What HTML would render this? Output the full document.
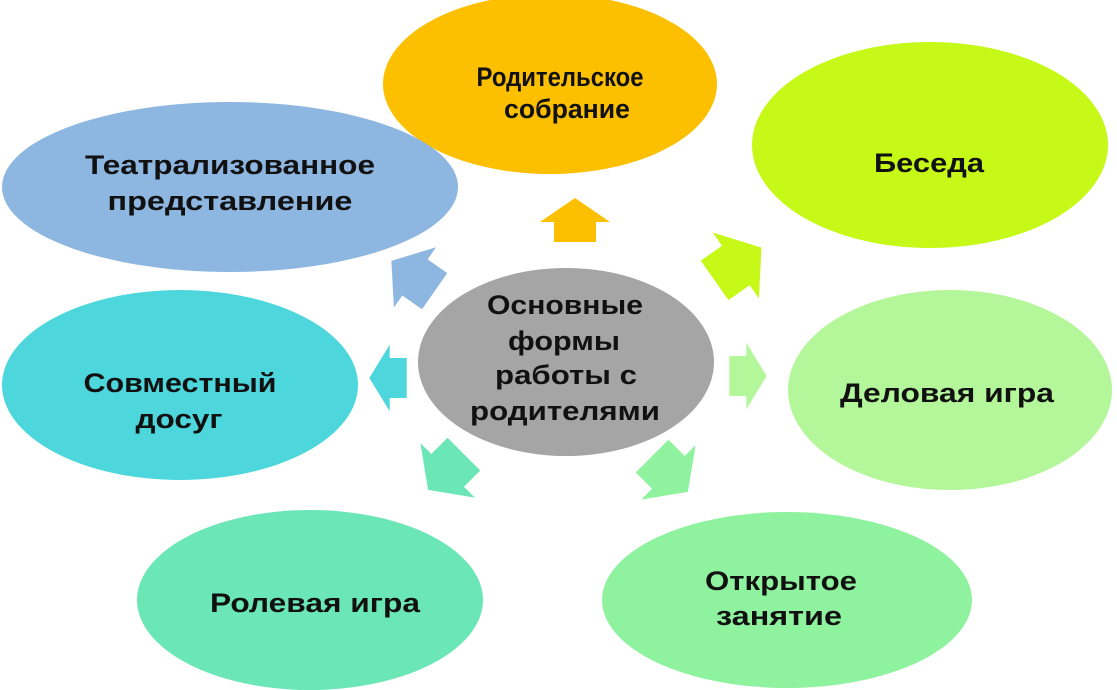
<!DOCTYPE html>
<html><head><meta charset="utf-8"><style>
html,body{margin:0;padding:0;background:#fff;}
svg{display:block}
text{font-family:"Liberation Sans",sans-serif;font-weight:bold;font-size:27px;fill:#111;text-anchor:middle;}
</style></head><body>
<svg width="1117" height="690" viewBox="0 0 1117 690" xmlns="http://www.w3.org/2000/svg">
<defs>
<polygon id="ar" points="0,-22 35,2 21,2 21,22 -21,22 -21,2 -35,2"/>
</defs>
<ellipse cx="550" cy="84" rx="167" ry="90" fill="#FDC000"/>
<ellipse cx="930" cy="145" rx="178" ry="103" fill="#C6F918"/>
<ellipse cx="230" cy="187" rx="228" ry="85" fill="#8DB6E0"/>
<ellipse cx="180" cy="385" rx="178" ry="95" fill="#4DD7DC"/>
<ellipse cx="950" cy="390" rx="162" ry="100" fill="#B4F79B"/>
<ellipse cx="310" cy="600" rx="173" ry="90" fill="#6BE6B6"/>
<ellipse cx="787" cy="600" rx="185" ry="88" fill="#8FF29F"/>
<ellipse cx="566" cy="362" rx="148" ry="94" fill="#A5A5A5"/>

<use href="#ar" fill="#FDC000" transform="translate(575,220)"/>
<use href="#ar" fill="#C6F918" transform="translate(738,264) rotate(55) scale(1.15,1.3)"/>
<use href="#ar" fill="#8DB6E0" transform="translate(413,276) rotate(-55) scale(1.05,1.2)"/>
<use href="#ar" fill="#4DD7DC" transform="translate(388,378) rotate(-90) scale(0.95,0.85)"/>
<use href="#ar" fill="#B4F79B" transform="translate(748,376) rotate(90) scale(0.95,0.85)"/>
<use href="#ar" fill="#6BE6B6" transform="translate(446,472) rotate(-135) scale(1.1,1.15)"/>
<use href="#ar" fill="#8FF29F" transform="translate(670,474) rotate(135) scale(1.1,1.15)"/>

<text x="560" y="86" textLength="167" lengthAdjust="spacingAndGlyphs">Родительское</text>
<text x="567" y="118" textLength="126" lengthAdjust="spacingAndGlyphs">собрание</text>
<text x="929" y="172" textLength="110" lengthAdjust="spacingAndGlyphs">Беседа</text>
<text x="230" y="174" textLength="290" lengthAdjust="spacingAndGlyphs">Театрализованное</text>
<text x="230" y="210" textLength="245" lengthAdjust="spacingAndGlyphs">представление</text>
<text x="180" y="392" textLength="193" lengthAdjust="spacingAndGlyphs">Совместный</text>
<text x="179" y="428" textLength="87" lengthAdjust="spacingAndGlyphs">досуг</text>
<text x="947" y="402" textLength="214" lengthAdjust="spacingAndGlyphs">Деловая игра</text>
<text x="315" y="612" textLength="210" lengthAdjust="spacingAndGlyphs">Ролевая игра</text>
<text x="781" y="590" textLength="152" lengthAdjust="spacingAndGlyphs">Открытое</text>
<text x="779" y="625" textLength="126" lengthAdjust="spacingAndGlyphs">занятие</text>
<text x="565" y="314" textLength="156" lengthAdjust="spacingAndGlyphs">Основные</text>
<text x="564" y="350" textLength="112" lengthAdjust="spacingAndGlyphs">формы</text>
<text x="566" y="384" textLength="142" lengthAdjust="spacingAndGlyphs">работы с</text>
<text x="565" y="420" textLength="190" lengthAdjust="spacingAndGlyphs">родителями</text>
</svg>
</body></html>
